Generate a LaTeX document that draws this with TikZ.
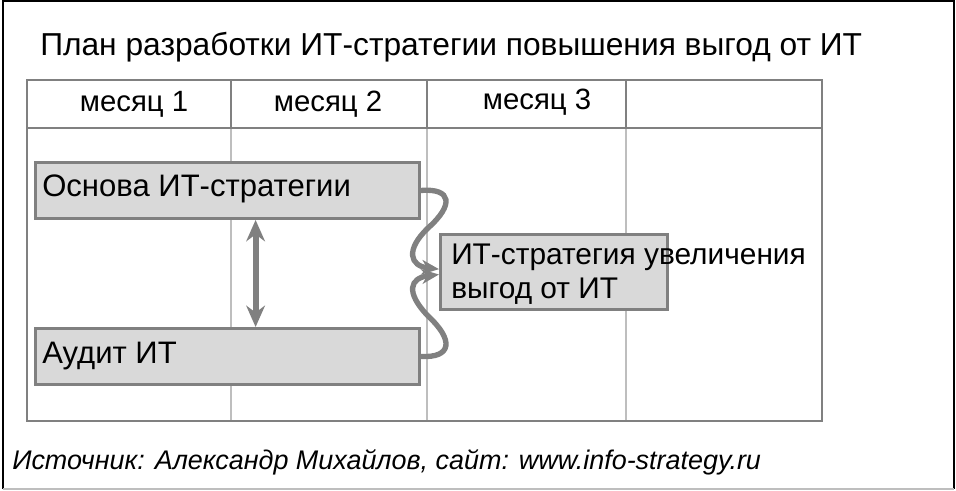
\documentclass[tikz,border=0pt]{standalone}
\usepackage{fontspec}
\setmainfont{Liberation Sans}
\usetikzlibrary{arrows.meta}

\definecolor{linegray}{RGB}{128,128,128}
\definecolor{boxgray}{RGB}{217,217,217}
\definecolor{thingray}{RGB}{190,190,190}

\tikzset{
  task/.style={draw=linegray, fill=boxgray, line width=2.2pt, inner sep=0pt},
  tasktext/.style={anchor=west, inner sep=0pt, align=left, font=\fontsize{23.3}{25.5}\selectfont},
  month/.style={inner sep=0pt, font=\fontsize{22}{26}\selectfont},
  link/.style={draw=linegray, line width=4pt, -{Stealth[length=13pt, width=11pt, inset=4pt]}}
}

\begin{document}
\begin{tikzpicture}[x=0.75pt, y=-0.75pt]
        \useasboundingbox (0,0) rectangle (956,490);
        % outer frame
        \draw[black, line width=1.2pt] (3,489) -- (3,1) -- (954,1) -- (954,489);
        \draw[thingray, line width=1.2pt] (3,489) -- (954,489);
        \node(title) [anchor=west, inner sep=0pt, font=\fontsize{23.8}{28}\selectfont] at (40,47) {План разработки ИТ-стратегии повышения выгод от ИТ};
        % table
        \draw[thingray, line width=0.9pt] (231,128) -- (231,421);
        \draw[thingray, line width=0.9pt] (427,128) -- (427,421);
        \draw[thingray, line width=0.9pt] (626,128) -- (626,421);
        \draw[linegray, line width=1.6pt] (231,80) -- (231,128);
        \draw[linegray, line width=1.6pt] (427,80) -- (427,128);
        \draw[linegray, line width=1.6pt] (626,80) -- (626,128);
        \draw[linegray, line width=1.6pt] (27,128) -- (822,128);
        \draw[linegray, line width=1.6pt] (27,80) rectangle (822,421);
        \node(m1) [month] at (134,104) {месяц 1};
        \node(m2) [month] at (328,104) {месяц 2};
        \node(m3) [month] at (537,102) {месяц 3};
        % tasks
        \node(base) [task, anchor=north west, minimum width=288pt, minimum height=42pt] at (34,161) {};
        \node(audit) [task, anchor=north west, minimum width=288pt, minimum height=42pt] at (34,327) {};
        \node(strat) [task, anchor=north west, minimum width=170pt, minimum height=56pt] at (439,233) {};
        \node(baset) [tasktext] at ([xshift=6pt, yshift=1pt]base.west) {Основа ИТ-стратегии};
        \node(auditt) [tasktext] at ([xshift=6pt]audit.west) {Аудит ИТ};
        \node(stratt) [tasktext, font=\fontsize{22.4}{25.5}\selectfont] at ([xshift=9pt, yshift=-2pt]strat.west) {ИТ-стратегия увеличения\\выгод от ИТ};
        % links
        \draw[draw=linegray, line width=4.5pt, {Stealth[length=16pt, width=14pt]}-{Stealth[length=16pt, width=14pt]}] ([xshift=-124pt]base.south east) -- ([xshift=-124pt]audit.north east);
        \draw[link] (base.east) .. controls (452,188) and (454,205) .. (428,228) .. controls (405,250) and (410,266) .. ([yshift=2pt]strat.west);
        \draw[link] (audit.east) .. controls (452,358) and (454,340) .. (428,316) .. controls (405,292) and (410,278) .. ([yshift=-2pt]strat.west);
        \node(source) [anchor=west, inner sep=0pt, font=\itshape\fontsize{20.2}{24}\selectfont] at (12,462) {Источник: Александр Михайлов, сайт: www.info-strategy.ru};
\end{tikzpicture}
\end{document}
